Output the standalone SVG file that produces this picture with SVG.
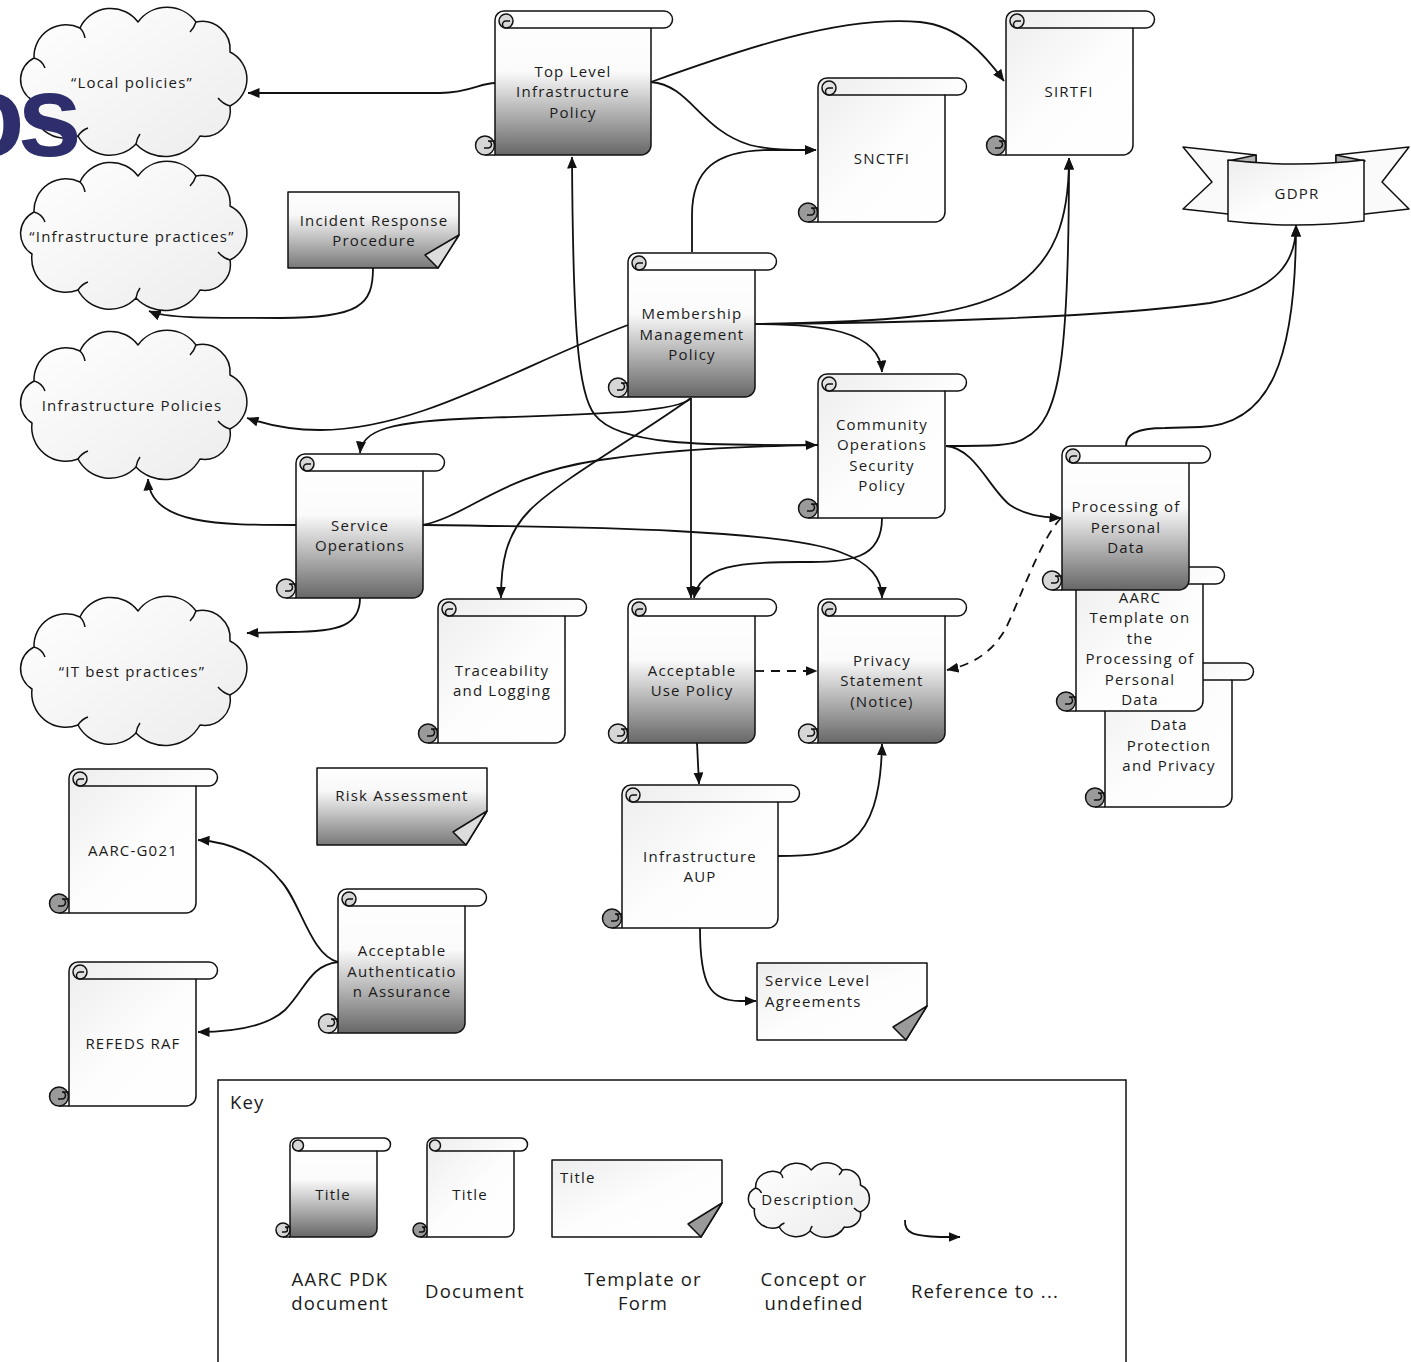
<svg xmlns="http://www.w3.org/2000/svg" xmlns:xlink="http://www.w3.org/1999/xlink" width="1411" height="1362" viewBox="0 0 1411 1362">
<style>
.sh{stroke:#111;stroke-width:1.5;stroke-linejoin:round}
.ln{fill:none;stroke:#111;stroke-width:1.5}
.t{font-family:"Open Sans","Liberation Sans",sans-serif;font-size:15px;letter-spacing:1.2px;text-anchor:middle;fill:#1a1a1a}
.ts{text-anchor:start}
.k{font-family:"Open Sans","Liberation Sans",sans-serif;font-size:18.5px;letter-spacing:1.2px;text-anchor:middle;fill:#1a1a1a}
.c{fill:none;stroke:#111;stroke-width:1.8;marker-end:url(#ah)}
.d{stroke-dasharray:9 7}
</style>
<defs>
<linearGradient id="gP" x1="0" y1="0" x2="0" y2="1"><stop offset="0" stop-color="#ffffff"/><stop offset="0.42" stop-color="#fbfbfb"/><stop offset="1" stop-color="#676767"/></linearGradient>
<linearGradient id="gT" x1="0" y1="0" x2="0" y2="1"><stop offset="0" stop-color="#ffffff"/><stop offset="0.3" stop-color="#f8f8f8"/><stop offset="1" stop-color="#787878"/></linearGradient>
<linearGradient id="gD" x1="0" y1="0" x2="1" y2="1"><stop offset="0" stop-color="#ededed"/><stop offset="0.5" stop-color="#fdfdfd"/><stop offset="1" stop-color="#ffffff"/></linearGradient>
<linearGradient id="gC" x1="0" y1="0" x2="1" y2="1"><stop offset="0" stop-color="#ffffff"/><stop offset="1" stop-color="#ececec"/></linearGradient>
<marker id="ah" viewBox="0 0 12 10" refX="11.5" refY="5" markerWidth="12" markerHeight="10" orient="auto" markerUnits="userSpaceOnUse"><path d="M0,0 L12,5 L0,10 Z" fill="#111"/></marker>
<g id="scrollP">
<path class="sh" fill="url(#gP)" d="M0,9 A9,9 0 0 1 9,0 H140 A8.5,8.5 0 0 1 140,17 H127 V134 A10,10 0 0 1 117,144 H0 Z"/>
<path class="ln" d="M11,17 H127 M0,144 H-10"/>
<circle class="sh" cx="11" cy="10" r="7" fill="#d6d6d6"/>
<path class="ln" d="M11,17 A3.5,3.5 0 0 1 11,10 H15"/>
<circle class="sh" cx="-10" cy="134.5" r="9.5" fill="#d6d6d6"/>
<path class="ln" d="M-7,130 H0 M-7,130 A3.5,3.5 0 0 1 -7,137 H-11"/>
</g>
<g id="scrollD">
<path class="sh" fill="url(#gD)" d="M0,9 A9,9 0 0 1 9,0 H140 A8.5,8.5 0 0 1 140,17 H127 V134 A10,10 0 0 1 117,144 H0 Z"/>
<path class="ln" d="M11,17 H127 M0,144 H-10"/>
<circle class="sh" cx="11" cy="10" r="7" fill="#e2e2e2"/>
<path class="ln" d="M11,17 A3.5,3.5 0 0 1 11,10 H15"/>
<circle class="sh" cx="-10" cy="134.5" r="9.5" fill="#9a9a9a"/>
<path class="ln" d="M-7,130 H0 M-7,130 A3.5,3.5 0 0 1 -7,137 H-11"/>
</g>
<g id="cloud">
<path class="sh" fill="url(#gC)" vector-effect="non-scaling-stroke" d="M14,92 A24,24 0 0 1 16,50 A32,32 0 0 1 62,20 A34,34 0 0 1 120,14 A36,36 0 0 1 178,14 A28,28 0 0 1 212,44 A30,30 0 0 1 212,98 A26,26 0 0 1 182,128 A40,40 0 0 1 118,136 A36,36 0 0 1 60,128 A34,34 0 0 1 14,92 Z"/>
<path class="ln" vector-effect="non-scaling-stroke" d="M16,50 Q24,52 27,60 M62,20 Q66,24 67,30 M178,14 Q176,20 172,24 M212,98 Q205,96 200,90 M118,136 Q119,130 122,126 M60,128 Q64,122 70,120"/>
</g>
</defs>

<!-- clouds -->
<g id="n-local-policies"><use href="#cloud" x="18" y="8"/><text class="t" x="132" y="88">“Local policies”</text></g>
<g id="n-infra-practices"><use href="#cloud" x="18" y="162"/><text class="t" x="132" y="242">“Infrastructure practices”</text></g>
<g id="n-infra-policies"><use href="#cloud" x="18" y="331"/><text class="t" x="132" y="411">Infrastructure Policies</text></g>
<g id="n-it-best"><use href="#cloud" x="18" y="597"/><text class="t" x="132" y="677">“IT best practices”</text></g>

<text x="19" y="156" font-family="Liberation Sans, Arial, sans-serif" font-weight="bold" font-size="116" letter-spacing="-7" fill="#2d2e6b" text-anchor="end" transform="translate(56,0)">os</text>

<!-- templates -->
<g id="n-incident">
<path class="sh" fill="url(#gT)" d="M288,192 H459 V235 L438,268 H288 Z"/>
<path class="sh" fill="#dcdcdc" d="M459,235 L438,268 L425,255 Z"/>
<text class="t" x="374" y="226">Incident Response</text><text class="t" x="374" y="246">Procedure</text>
</g>
<g id="n-risk">
<path class="sh" fill="url(#gT)" d="M317,768 H487 V811 L466,845 H317 Z"/>
<path class="sh" fill="#dcdcdc" d="M487,811 L466,845 L453,832 Z"/>
<text class="t" x="402" y="801">Risk Assessment</text>
</g>
<g id="n-sla">
<path class="sh" fill="url(#gD)" d="M757,963 H927 V1006 L906,1040 H757 Z"/>
<path class="sh" fill="#9a9a9a" d="M927,1006 L906,1040 L893,1027 Z"/>
<text class="t ts" x="765" y="986">Service Level</text><text class="t ts" x="765" y="1007">Agreements</text>
</g>

<!-- GDPR ribbon -->
<g id="n-gdpr">
<path class="sh" fill="#fafafa" d="M1183,147 L1256,155 L1256,210 L1228,214 L1183,209 L1212,182 Z"/>
<path class="sh" fill="#fafafa" d="M1409,147 L1336,155 L1336,210 L1365,214 L1409,209 L1382,182 Z"/>
<path class="sh" fill="#b4b4b4" d="M1228,161 L1256,155 L1256,163 Z"/>
<path class="sh" fill="#b4b4b4" d="M1365,161 L1336,155 L1336,163 Z"/>
<path class="sh" fill="url(#gD)" d="M1228,160 Q1296,168 1364,160 V221 Q1296,229 1228,221 Z"/>
<text class="t" x="1297" y="199">GDPR</text>
</g>

<!-- scrolls -->
<g id="n-top-level">
<path class="sh" fill="url(#gP)" d="M495,20 A9,9 0 0 1 504,11 H664 A8.5,8.5 0 0 1 664,28 H651 V145 A10,10 0 0 1 641,155 H495 Z"/>
<path class="ln" d="M506,28 H651 M495,155 H485"/>
<circle class="sh" cx="506" cy="21" r="7" fill="#d6d6d6"/>
<path class="ln" d="M506,28 A3.5,3.5 0 0 1 506,21 H510"/>
<circle class="sh" cx="485" cy="145.5" r="9.5" fill="#d6d6d6"/>
<path class="ln" d="M488,141 H495 M488,141 A3.5,3.5 0 0 1 488,148 H484"/>
<text class="t" x="573" y="77">Top Level</text><text class="t" x="573" y="97">Infrastructure</text><text class="t" x="573" y="118">Policy</text>
</g>
<g id="n-sirtfi"><use href="#scrollD" x="1006" y="11"/><text class="t" x="1069" y="97">SIRTFI</text></g>
<g id="n-snctfi"><use href="#scrollD" x="818" y="78"/><text class="t" x="882" y="164">SNCTFI</text></g>
<g id="n-membership"><use href="#scrollP" x="628" y="253"/><text class="t" x="692" y="319">Membership</text><text class="t" x="692" y="340">Management</text><text class="t" x="692" y="360">Policy</text></g>
<g id="n-community"><use href="#scrollD" x="818" y="374"/><text class="t" x="882" y="430">Community</text><text class="t" x="882" y="450">Operations</text><text class="t" x="882" y="471">Security</text><text class="t" x="882" y="491">Policy</text></g>
<g id="n-service-ops"><use href="#scrollP" x="296" y="454"/><text class="t" x="360" y="531">Service</text><text class="t" x="360" y="551">Operations</text></g>
<g id="n-data-protection"><use href="#scrollD" x="1105" y="663"/><text class="t" x="1169" y="730">Data</text><text class="t" x="1169" y="751">Protection</text><text class="t" x="1169" y="771">and Privacy</text></g>
<g id="n-aarc-template"><use href="#scrollD" x="1076" y="567"/><text class="t" x="1140" y="603">AARC</text><text class="t" x="1140" y="623">Template on</text><text class="t" x="1140" y="644">the</text><text class="t" x="1140" y="664">Processing of</text><text class="t" x="1140" y="685">Personal</text><text class="t" x="1140" y="705">Data</text></g>
<g id="n-processing"><use href="#scrollP" x="1062" y="446"/><text class="t" x="1126" y="512">Processing of</text><text class="t" x="1126" y="533">Personal</text><text class="t" x="1126" y="553">Data</text></g>
<g id="n-traceability"><use href="#scrollD" x="438" y="599"/><text class="t" x="502" y="676">Traceability</text><text class="t" x="502" y="696">and Logging</text></g>
<g id="n-aup"><use href="#scrollP" x="628" y="599"/><text class="t" x="692" y="676">Acceptable</text><text class="t" x="692" y="696">Use Policy</text></g>
<g id="n-privacy"><use href="#scrollP" x="818" y="599"/><text class="t" x="882" y="666">Privacy</text><text class="t" x="882" y="686">Statement</text><text class="t" x="882" y="707">(Notice)</text></g>
<g id="n-infra-aup">
<path class="sh" fill="url(#gD)" d="M622,794 A9,9 0 0 1 631,785 H791 A8.5,8.5 0 0 1 791,802 H778 V918 A10,10 0 0 1 768,928 H622 Z"/>
<path class="ln" d="M633,802 H778 M622,928 H612"/>
<circle class="sh" cx="633" cy="795" r="7" fill="#e2e2e2"/>
<path class="ln" d="M633,802 A3.5,3.5 0 0 1 633,795 H637"/>
<circle class="sh" cx="612" cy="918.5" r="9.5" fill="#9a9a9a"/>
<path class="ln" d="M615,914 H622 M615,914 A3.5,3.5 0 0 1 615,921 H611"/>
<text class="t" x="700" y="862">Infrastructure</text><text class="t" x="700" y="882">AUP</text>
</g>
<g id="n-aarc-g021"><use href="#scrollD" x="69" y="769"/><text class="t" x="133" y="856">AARC-G021</text></g>
<g id="n-refeds"><use href="#scrollD" x="69" y="962"/><text class="t" x="133" y="1049">REFEDS RAF</text></g>
<g id="n-aaa"><use href="#scrollP" x="338" y="889"/><text class="t" x="402" y="956">Acceptable</text><text class="t" x="402" y="977">Authenticatio</text><text class="t" x="402" y="997">n Assurance</text></g>

<!-- connectors -->
<g id="connectors">
<path class="c" d="M495,83 C480,83 470,93 440,93 L248,93"/>
<path class="c" d="M651,82 C740,50 840,15 920,22 C960,26 985,55 1004,81"/>
<path class="c" d="M651,82 C690,85 700,130 750,145 C770,150 790,150 816,150"/>
<path class="c" d="M692,252 V215 C692,170 715,150 770,150 L816,150"/>
<path class="c" d="M755,324 C880,322 960,318 1010,290 C1055,262 1069,220 1069,158"/>
<path class="c" d="M946,446 C990,446 1015,446 1025,438 C1060,420 1069,360 1069,158"/>
<path class="c" d="M755,324 C900,323 1100,318 1210,303 C1280,290 1296,260 1296,225"/>
<path class="c" d="M1126,446 C1126,435 1135,428 1165,428 L1200,427 C1270,425 1296,360 1296,225"/>
<path class="c" d="M755,324 C820,324 880,330 882,372"/>
<path class="c" d="M628,325 C520,365 420,430 320,430 C290,430 265,424 247,418"/>
<path class="c" d="M818,445 C720,445 620,448 595,415 C578,395 573,330 572,157"/>
<path class="c" d="M423,525 C470,515 500,475 600,460 C680,448 760,446 817,445"/>
<path class="c" d="M691,398 V598"/>
<path class="c" d="M691,398 C680,412 600,414 480,418 C390,421 362,430 360,453"/>
<path class="c" d="M691,398 C640,435 560,480 530,510 C505,535 501,565 501,598"/>
<path class="c" d="M882,518 C882,560 850,562 800,562 C740,562 700,565 694,598"/>
<path class="c" d="M423,525 C600,527 780,530 840,552 C870,563 882,578 882,598"/>
<path class="c" d="M946,446 C975,448 990,490 1010,505 C1025,515 1040,517 1061,518"/>
<path class="c d" d="M1061,518 C1040,540 1020,600 1005,630 C990,655 970,665 947,670"/>
<path class="c d" d="M755,671 H817"/>
<path class="c" d="M697,743 L699,784"/>
<path class="c" d="M778,856 C840,856 880,850 882,744"/>
<path class="c" d="M700,928 C700,985 710,1001 740,1001 L756,1001"/>
<path class="c" d="M373,268 C373,305 360,318 280,318 C200,318 165,318 149,311"/>
<path class="c" d="M296,525 C220,525 150,525 148,479"/>
<path class="c" d="M360,598 C360,625 340,632 290,632 L247,633"/>
<path class="c" d="M338,962 C310,955 300,900 280,880 C260,855 230,842 198,840"/>
<path class="c" d="M338,962 C310,965 305,990 285,1010 C265,1028 230,1032 198,1032"/>
</g>

<!-- key -->
<g id="key">
<rect x="218" y="1080" width="908" height="300" fill="none" stroke="#111" stroke-width="1.5"/>
<text class="k" x="230" y="1109" style="text-anchor:start">Key</text>
<g id="key-pdk">
<path class="sh" fill="url(#gP)" d="M290,1145 A7,7 0 0 1 297,1138 H384 A6.5,6.5 0 0 1 384,1151 H377 V1229 A8,8 0 0 1 369,1237 H290 Z"/>
<path class="ln" d="M298,1151 H377 M290,1237 H283"/>
<circle class="sh" cx="298" cy="1145.5" r="5.5" fill="#d6d6d6"/>
<circle class="sh" cx="283" cy="1230" r="7" fill="#d6d6d6"/>
<path class="ln" d="M285,1227 H290 M285,1227 A2.5,2.5 0 0 1 285,1232 H282"/>
<text class="t" x="333" y="1200">Title</text>
<text class="k" x="340" y="1286">AARC PDK</text><text class="k" x="340" y="1310">document</text>
</g>
<g id="key-doc">
<path class="sh" fill="url(#gD)" d="M427,1145 A7,7 0 0 1 434,1138 H521 A6.5,6.5 0 0 1 521,1151 H514 V1229 A8,8 0 0 1 506,1237 H427 Z"/>
<path class="ln" d="M435,1151 H514 M427,1237 H420"/>
<circle class="sh" cx="435" cy="1145.5" r="5.5" fill="#e2e2e2"/>
<circle class="sh" cx="420" cy="1230" r="7" fill="#9a9a9a"/>
<path class="ln" d="M422,1227 H427 M422,1227 A2.5,2.5 0 0 1 422,1232 H419"/>
<text class="t" x="470" y="1200">Title</text>
<text class="k" x="475" y="1298">Document</text>
</g>
<g id="key-template">
<path class="sh" fill="url(#gD)" d="M552,1160 H722 V1203 L701,1237 H552 Z"/>
<path class="sh" fill="#9a9a9a" d="M722,1203 L701,1237 L688,1224 Z"/>
<text class="t ts" x="560" y="1183">Title</text>
<text class="k" x="643" y="1286">Template or</text><text class="k" x="643" y="1310">Form</text>
</g>
<g id="key-concept">
<use href="#cloud" transform="translate(747,1163) scale(0.535,0.5)"/>
<text class="t" x="808" y="1205">Description</text>
<text class="k" x="814" y="1286">Concept or</text><text class="k" x="814" y="1310">undefined</text>
</g>
<g id="key-ref">
<path class="c" d="M905,1220 C904,1234 915,1236 940,1237 L960,1237"/>
<text class="k" x="985" y="1298">Reference to ...</text>
</g>
</g>
</svg>
